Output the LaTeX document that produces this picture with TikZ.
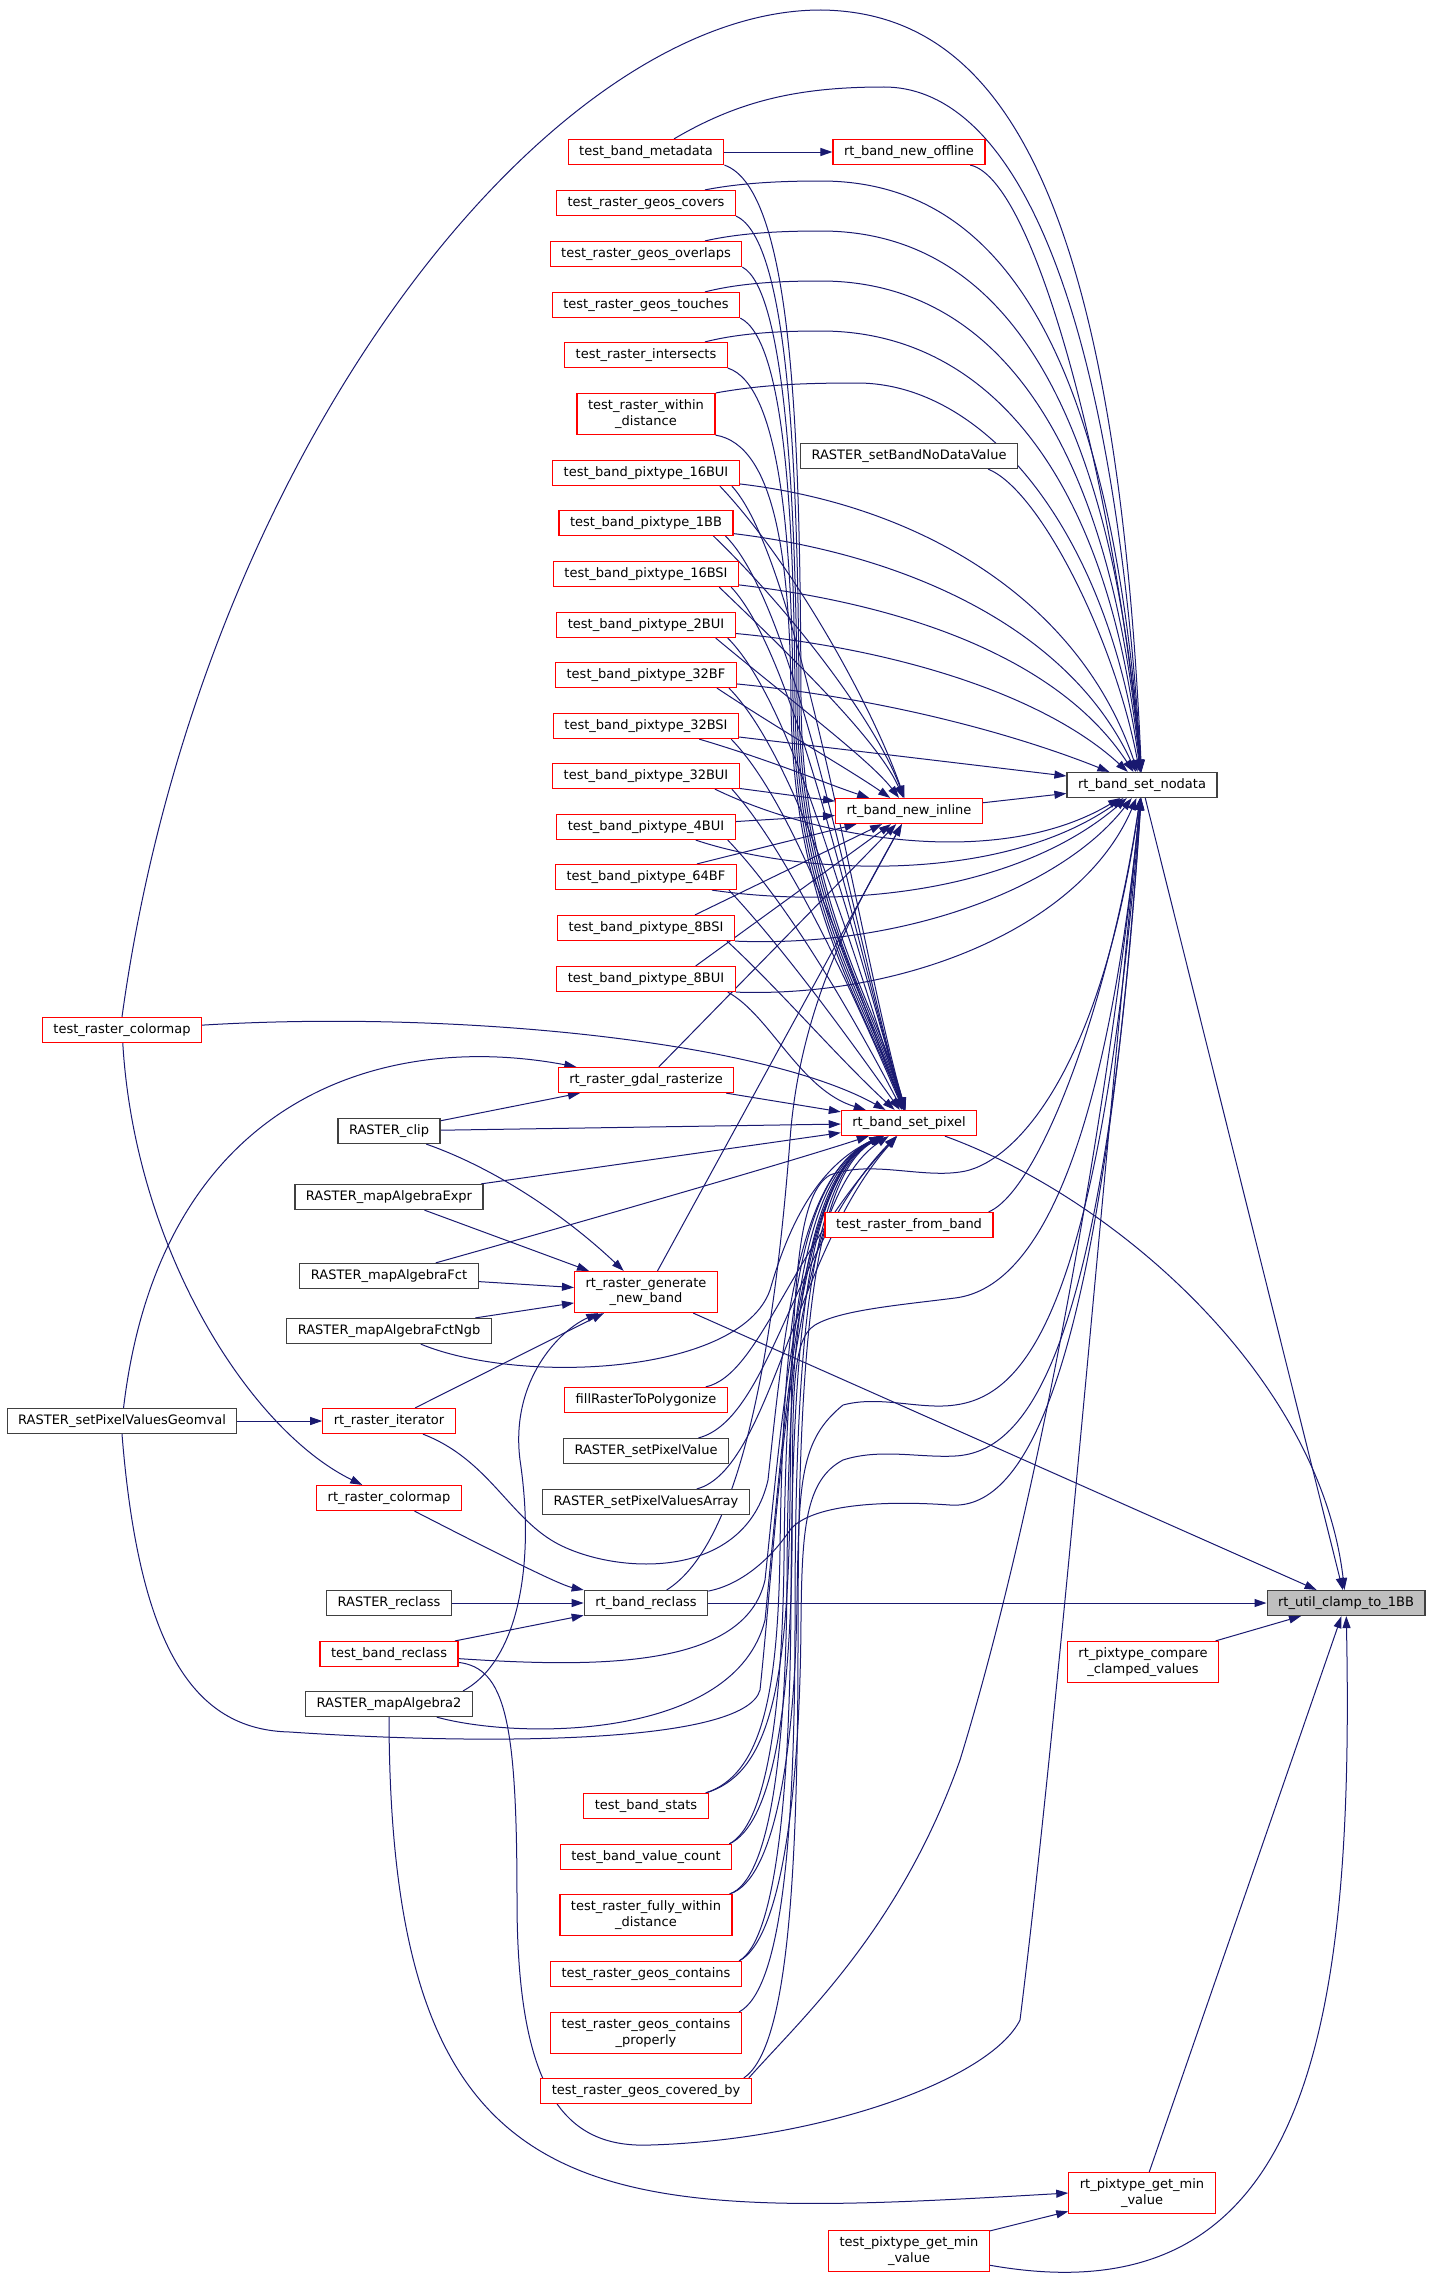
\documentclass[tikz,border=0pt]{standalone}
\usepackage{fontspec}
\setmainfont{DejaVu Sans}
\usetikzlibrary{arrows.meta, backgrounds}

\definecolor{edgeblue}{HTML}{191970}
\definecolor{boxgrey}{HTML}{BFBFBF}
\definecolor{boxline}{HTML}{404040}
\newcommand{\graphfont}{\fontsize{13pt}{15.5pt}\selectfont}

\tikzset{
	>={Triangle[length=12pt, width=8pt]},
	redbox/.style={draw=red, line width=1.2pt, fill=white, font=\graphfont, align=center, inner xsep=11pt, inner ysep=2pt, minimum height=25pt},
	blackbox/.style={redbox, draw=boxline},
	mainbox/.style={redbox, draw=boxline, fill=boxgrey},
	twoline/.style={minimum height=41pt},
	call/.style={draw=edgeblue, line width=1pt, ->},
}

\begin{document}
\begin{tikzpicture}[x=1pt, y=-1pt]
	\useasboundingbox (0,0) rectangle (1432,2280);

	\node [redbox] (tbm) at (646,152) {test\_band\_metadata};
	\node [redbox] (nof) at (909,152) {rt\_band\_new\_offline};
	\node [redbox] (tgcov) at (646,203) {test\_raster\_geos\_covers};
	\node [redbox] (tgovl) at (646,254) {test\_raster\_geos\_overlaps};
	\node [redbox] (tgtch) at (646,305) {test\_raster\_geos\_touches};
	\node [redbox] (tint) at (646,355) {test\_raster\_intersects};
	\node [redbox, twoline] (twd) at (646,414) {test\_raster\_within\\\_distance};
	\node [blackbox] (rsbnd) at (909,456) {RASTER\_setBandNoDataValue};
	\node [redbox] (p16bui) at (646,473) {test\_band\_pixtype\_16BUI};
	\node [redbox] (p1bb) at (646,523) {test\_band\_pixtype\_1BB};
	\node [redbox] (p16bsi) at (646,574) {test\_band\_pixtype\_16BSI};
	\node [redbox] (p2bui) at (646,625) {test\_band\_pixtype\_2BUI};
	\node [redbox] (p32bf) at (646,675) {test\_band\_pixtype\_32BF};
	\node [redbox] (p32bsi) at (646,726) {test\_band\_pixtype\_32BSI};
	\node [redbox] (p32bui) at (646,776) {test\_band\_pixtype\_32BUI};
	\node [redbox] (p4bui) at (646,827) {test\_band\_pixtype\_4BUI};
	\node [redbox] (p64bf) at (646,877) {test\_band\_pixtype\_64BF};
	\node [redbox] (p8bsi) at (646,928) {test\_band\_pixtype\_8BSI};
	\node [redbox] (p8bui) at (646,979) {test\_band\_pixtype\_8BUI};
	\node [blackbox] (snd) at (1142,785) {rt\_band\_set\_nodata};
	\node [redbox] (nin) at (909,811) {rt\_band\_new\_inline};
	\node [redbox] (trc) at (122,1030) {test\_raster\_colormap};
	\node [redbox] (grz) at (646,1080) {rt\_raster\_gdal\_rasterize};
	\node [blackbox] (rclip) at (389,1131) {RASTER\_clip};
	\node [redbox] (spx) at (909,1123) {rt\_band\_set\_pixel};
	\node [blackbox] (rmae) at (389,1197) {RASTER\_mapAlgebraExpr};
	\node [redbox] (trfb) at (909,1225) {test\_raster\_from\_band};
	\node [blackbox] (rmaf) at (389,1276) {RASTER\_mapAlgebraFct};
	\node [redbox, twoline] (gnb) at (646,1292) {rt\_raster\_generate\\\_new\_band};
	\node [blackbox] (rmafn) at (389,1331) {RASTER\_mapAlgebraFctNgb};
	\node [redbox] (fill) at (646,1400) {fillRasterToPolygonize};
	\node [blackbox] (rspvg) at (122,1421) {RASTER\_setPixelValuesGeomval};
	\node [redbox] (rit) at (389,1421) {rt\_raster\_iterator};
	\node [blackbox] (rspv) at (646,1451) {RASTER\_setPixelValue};
	\node [redbox] (rcm) at (389,1498) {rt\_raster\_colormap};
	\node [blackbox] (rspva) at (646,1502) {RASTER\_setPixelValuesArray};
	\node [blackbox] (rrc) at (389,1603) {RASTER\_reclass};
	\node [blackbox] (brc) at (646,1603) {rt\_band\_reclass};
	\node [mainbox] (clamp) at (1346,1603) {rt\_util\_clamp\_to\_1BB};
	\node [redbox] (tbrc) at (389,1654) {test\_band\_reclass};
	\node [redbox, twoline] (cmp) at (1143,1662) {rt\_pixtype\_compare\\\_clamped\_values};
	\node [blackbox] (rma2) at (389,1704) {RASTER\_mapAlgebra2};
	\node [redbox] (tbs) at (646,1806) {test\_band\_stats};
	\node [redbox] (tbvc) at (646,1857) {test\_band\_value\_count};
	\node [redbox, twoline] (tfwd) at (646,1915) {test\_raster\_fully\_within\\\_distance};
	\node [redbox] (tgcon) at (646,1974) {test\_raster\_geos\_contains};
	\node [redbox, twoline] (tgcp) at (646,2033) {test\_raster\_geos\_contains\\\_properly};
	\node [redbox] (tgcb) at (646,2091) {test\_raster\_geos\_covered\_by};
	\node [redbox, twoline] (gmv) at (1142,2193) {rt\_pixtype\_get\_min\\\_value};
	\node [redbox, twoline] (tgmv) at (909,2251) {test\_pixtype\_get\_min\\\_value};

	\begin{scope}[on background layer]
	\draw [call] (snd) -- (clamp);
	\draw [call] (spx) .. controls (1120,1200) and (1320,1380) .. (clamp);
	\draw [call] (gnb) -- (clamp);
	\draw [call] (brc) -- (clamp);
	\draw [call] (cmp) -- (clamp);
	\draw [call] (gmv) -- (clamp);
	\draw [call] (tgmv) .. controls (1300,2320) and (1355,2050) .. (clamp);
	\draw [call] (tgmv) -- (gmv);
	\draw [call] (rma2.south) .. controls (390,2230) and (600,2220) .. (gmv.west);

	\draw [call] (nof) .. controls (1040,180) and (1120,520) .. (snd);
	\draw [call] ([xshift=-30pt]rsbnd.south east) .. controls (1040,490) and (1115,640) .. (snd);
	\draw [call] (nin) -- (snd);
	\draw [call] ([xshift=-5pt]trfb.north east) .. controls (1040,1190) and (1110,1000) .. (snd);
	\draw [call] (trc.north) .. controls (200,450) and (550,10) .. (821,10) .. controls (990,12) and (1115,170) .. (snd);
	\draw [call] ([xshift=28pt]tbm.north) .. controls (740,100) and (800,87) .. (884,87) .. controls (1000,87) and (1110,260) .. (snd);
	\draw [call] ([xshift=59pt]tgcov.north) .. controls (740,183) and (780,181) .. (821,181) .. controls (990,181) and (1110,330) .. (snd);
	\draw [call] ([xshift=59pt]tgovl.north) .. controls (740,233) and (780,231) .. (821,231) .. controls (990,231) and (1110,380) .. (snd);
	\draw [call] ([xshift=59pt]tgtch.north) .. controls (740,283) and (780,281) .. (821,281) .. controls (990,281) and (1110,430) .. (snd);
	\draw [call] ([xshift=59pt]tint.north) .. controls (740,333) and (780,331) .. (821,331) .. controls (990,331) and (1110,480) .. (snd);
	\draw [call] ([xshift=70pt]twd.north) .. controls (760,385) and (800,383) .. (857,383) .. controls (990,383) and (1110,540) .. (snd);

	\draw [call] (p16bui) .. controls (920,505) and (1080,600) .. (snd);
	\draw [call] (p1bb) .. controls (910,555) and (1070,630) .. (snd);
	\draw [call] (p16bsi) .. controls (910,605) and (1060,660) .. (snd);
	\draw [call] (p2bui) .. controls (910,650) and (1050,700) .. (snd);
	\draw [call] (p32bf) .. controls (900,700) and (1030,740) .. (snd);
	\draw [call] (p32bsi) -- (snd);
	\draw [call] ([xshift=-25pt]p32bui.south east) .. controls (820,840) and (1000,870) .. (snd);
	\draw [call] ([xshift=-40pt]p4bui.south east) .. controls (800,875) and (1000,885) .. (snd);
	\draw [call] ([xshift=-25pt]p64bf.south east) .. controls (850,910) and (1020,890) .. (snd);
	\draw [call] (p8bsi.south east) .. controls (900,948) and (1060,890) .. (snd);
	\draw [call] (p8bui.south east) .. controls (900,998) and (1080,930) .. (snd);

	\draw [call] ([xshift=-20pt]p16bui.south east) .. controls (790,560) and (870,700) .. (nin);
	\draw [call] ([xshift=-20pt]p1bb.south east) .. controls (790,610) and (875,720) .. (nin);
	\draw [call] ([xshift=-20pt]p16bsi.south east) .. controls (790,655) and (878,740) .. (nin);
	\draw [call] ([xshift=-20pt]p2bui.south east) .. controls (790,700) and (870,760) .. (nin);
	\draw [call] ([xshift=-20pt]p32bf.south east) .. controls (780,730) and (850,770) .. (nin);
	\draw [call] ([xshift=-40pt]p32bsi.south east) .. controls (770,760) and (830,785) .. (nin);
	\draw [call] (p32bui) -- (nin);
	\draw [call] (p4bui) -- (nin);
	\draw [call] ([xshift=-40pt]p64bf.north east) -- (nin);
	\draw [call] ([xshift=-40pt]p8bsi.north east) -- (nin);
	\draw [call] ([xshift=-40pt]p8bui.north east) -- (nin);

	\draw [call] ([xshift=-8pt]p16bui.south east) .. controls (800,560) and (860,950) .. (spx);
	\draw [call] ([xshift=-8pt]p1bb.south east) .. controls (800,610) and (860,960) .. (spx);
	\draw [call] ([xshift=-8pt]p16bsi.south east) .. controls (800,660) and (862,970) .. (spx);
	\draw [call] ([xshift=-8pt]p2bui.south east) .. controls (800,710) and (865,980) .. (spx);
	\draw [call] ([xshift=-8pt]p32bf.south east) .. controls (800,760) and (865,990) .. (spx);
	\draw [call] ([xshift=-8pt]p32bsi.south east) .. controls (800,810) and (860,1000) .. (spx);
	\draw [call] ([xshift=-8pt]p32bui.south east) .. controls (795,860) and (860,1010) .. (spx);
	\draw [call] ([xshift=-8pt]p4bui.south east) .. controls (790,905) and (855,1020) .. (spx);
	\draw [call] ([xshift=-8pt]p64bf.south east) .. controls (785,950) and (850,1040) .. (spx);
	\draw [call] ([xshift=-8pt]p8bsi.south east) .. controls (780,990) and (840,1060) .. (spx);
	\draw [call] ([xshift=-8pt]p8bui.south east) .. controls (770,1015) and (800,1090) .. (spx);

	\draw [call] (tbm.south east) .. controls (795,190) and (800,450) .. (801,700) .. controls (802,900) and (875,1000) .. (spx);
	\draw [call] (tgcov.south east) .. controls (790,240) and (798,480) .. (799,700) .. controls (800,900) and (872,1000) .. (spx);
	\draw [call] (tgovl.south east) .. controls (785,290) and (796,500) .. (797,700) .. controls (798,900) and (869,1000) .. (spx);
	\draw [call] (tgtch.south east) .. controls (785,340) and (794,520) .. (795,700) .. controls (796,900) and (866,1000) .. (spx);
	\draw [call] (tint.south east) .. controls (780,385) and (792,540) .. (793,700) .. controls (794,900) and (863,1000) .. (spx);
	\draw [call] (twd.south east) .. controls (775,445) and (790,560) .. (791,700) .. controls (792,900) and (860,1000) .. (spx);

	\draw [call] (tbm) -- (nof);
	\draw [call] (trc) .. controls (450,1010) and (760,1040) .. (spx);
	\draw [call] (trc) .. controls (135,1250) and (250,1430) .. (rcm);
	\draw [call] (rspvg) .. controls (160,1100) and (380,1030) .. (grz);
	\draw [call] (rspvg) -- (rit);
	\draw [call] (rspvg.south) .. controls (140,1660) and (200,1730) .. (290,1732) .. controls (480,1745) and (745,1745) .. (760,1690) .. controls (780,1500) and (790,1200) .. (spx);
	\draw [call] (rclip) -- (grz);
	\draw [call] (rclip) -- (spx);
	\draw [call] (rclip) .. controls (500,1170) and (570,1220) .. (gnb);
	\draw [call] (rmae) -- (spx);
	\draw [call] (rmae) -- (gnb);
	\draw [call] (rmaf) -- (gnb);
	\draw [call] (rmaf) .. controls (560,1228) and (780,1165) .. (spx);
	\draw [call] (rmafn) -- (gnb);
	\draw [call] (rmafn) .. controls (520,1385) and (740,1375) .. (770,1290) .. controls (790,1220) and (820,1165) .. (spx);
	\draw [call] (grz) -- (spx);
	\draw [call] (grz) -- (nin);
	\draw [call] (gnb) -- (nin);
	\draw [call] (rit) -- (gnb);
	\draw [call] (rit) .. controls (490,1460) and (510,1520) .. (560,1545) .. controls (620,1575) and (745,1580) .. (768,1480) .. controls (785,1320) and (800,1175) .. (spx);
	\draw [call] ([xshift=-10pt]rma2.north east) .. controls (520,1660) and (535,1560) .. (520,1460) .. controls (510,1380) and (560,1330) .. (gnb);
	\draw [call] (rma2) .. controls (520,1740) and (735,1740) .. (765,1620) .. controls (785,1420) and (800,1175) .. (spx);
	\draw [call] (fill) .. controls (760,1375) and (790,1250) .. (spx);
	\draw [call] (rspv) .. controls (770,1420) and (795,1240) .. (spx);
	\draw [call] (rspva) .. controls (770,1470) and (795,1250) .. (spx);
	\draw [call] (rcm) .. controls (500,1555) and (560,1585) .. (brc);
	\draw [call] (rrc) -- (brc);
	\draw [call] (tbrc) -- (brc);
	\draw [call] (tbrc) .. controls (600,1668) and (745,1668) .. (765,1580) .. controls (782,1420) and (800,1175) .. (spx);
	\draw [call] (tbrc) .. controls (505,1668) and (517,1720) .. (517,1900) .. controls (517,2100) and (570,2148) .. (650,2145) .. controls (820,2140) and (990,2080) .. (1020,2020) .. controls (1060,1700) and (1110,1100) .. (snd);
	\draw [call] (brc) .. controls (730,1550) and (770,1400) .. (790,1140) .. controls (800,1000) and (860,900) .. (nin);
	\draw [call] (brc) .. controls (740,1585) and (770,1560) .. (790,1530) .. controls (810,1505) and (880,1500) .. (950,1505) .. controls (1020,1510) and (1100,1400) .. (snd);

	\draw [call] ([xshift=-3pt]tbs.north east) .. controls (760,1775) and (778,1700) .. (780,1550) .. controls (783,1320) and (800,1175) .. (spx);
	\draw [call] ([xshift=-3pt]tbs.north east) .. controls (765,1775) and (788,1700) .. (790,1500) .. controls (792,1300) and (795,1195) .. (830,1175) .. controls (870,1160) and (920,1178) .. (960,1172) .. controls (1010,1166) and (1100,1080) .. (snd);
	\draw [call] ([xshift=-3pt]tbvc.north east) .. controls (765,1825) and (782,1720) .. (784,1560) .. controls (786,1330) and (802,1175) .. (spx);
	\draw [call] ([xshift=-3pt]tbvc.north east) .. controls (770,1825) and (790,1720) .. (792,1550) .. controls (793,1400) and (790,1340) .. (815,1325) .. controls (840,1310) and (900,1305) .. (955,1298) .. controls (1020,1290) and (1100,1200) .. (snd);
	\draw [call] ([xshift=-3pt]tfwd.north east) .. controls (770,1880) and (786,1750) .. (787,1580) .. controls (788,1340) and (804,1175) .. (spx);
	\draw [call] ([xshift=-3pt]tfwd.north east) .. controls (775,1880) and (795,1750) .. (797,1600) .. controls (799,1480) and (800,1440) .. (843,1405) .. controls (880,1395) and (920,1410) .. (955,1405) .. controls (1030,1395) and (1100,1300) .. (snd);
	\draw [call] ([xshift=-3pt]tgcon.north east) .. controls (775,1940) and (790,1800) .. (791,1600) .. controls (792,1350) and (806,1175) .. (spx);
	\draw [call] ([xshift=-3pt]tgcon.north east) .. controls (780,1940) and (800,1800) .. (801,1620) .. controls (802,1530) and (805,1480) .. (843,1460) .. controls (880,1448) and (920,1458) .. (955,1456) .. controls (1030,1452) and (1105,1350) .. (snd);
	\draw [call] ([xshift=-3pt]tgcp.north east) .. controls (780,1990) and (795,1850) .. (795,1620) .. controls (795,1360) and (808,1175) .. (spx);
	\draw [call] ([xshift=-8pt]tgcb.north east) .. controls (785,2050) and (798,1900) .. (798,1640) .. controls (798,1370) and (810,1175) .. (spx);
	\draw [call] ([xshift=-3pt]tgcb.north east) .. controls (800,2020) and (900,1930) .. (960,1760) .. controls (1040,1500) and (1110,1100) .. (snd);
	\end{scope}
\end{tikzpicture}
\end{document}
